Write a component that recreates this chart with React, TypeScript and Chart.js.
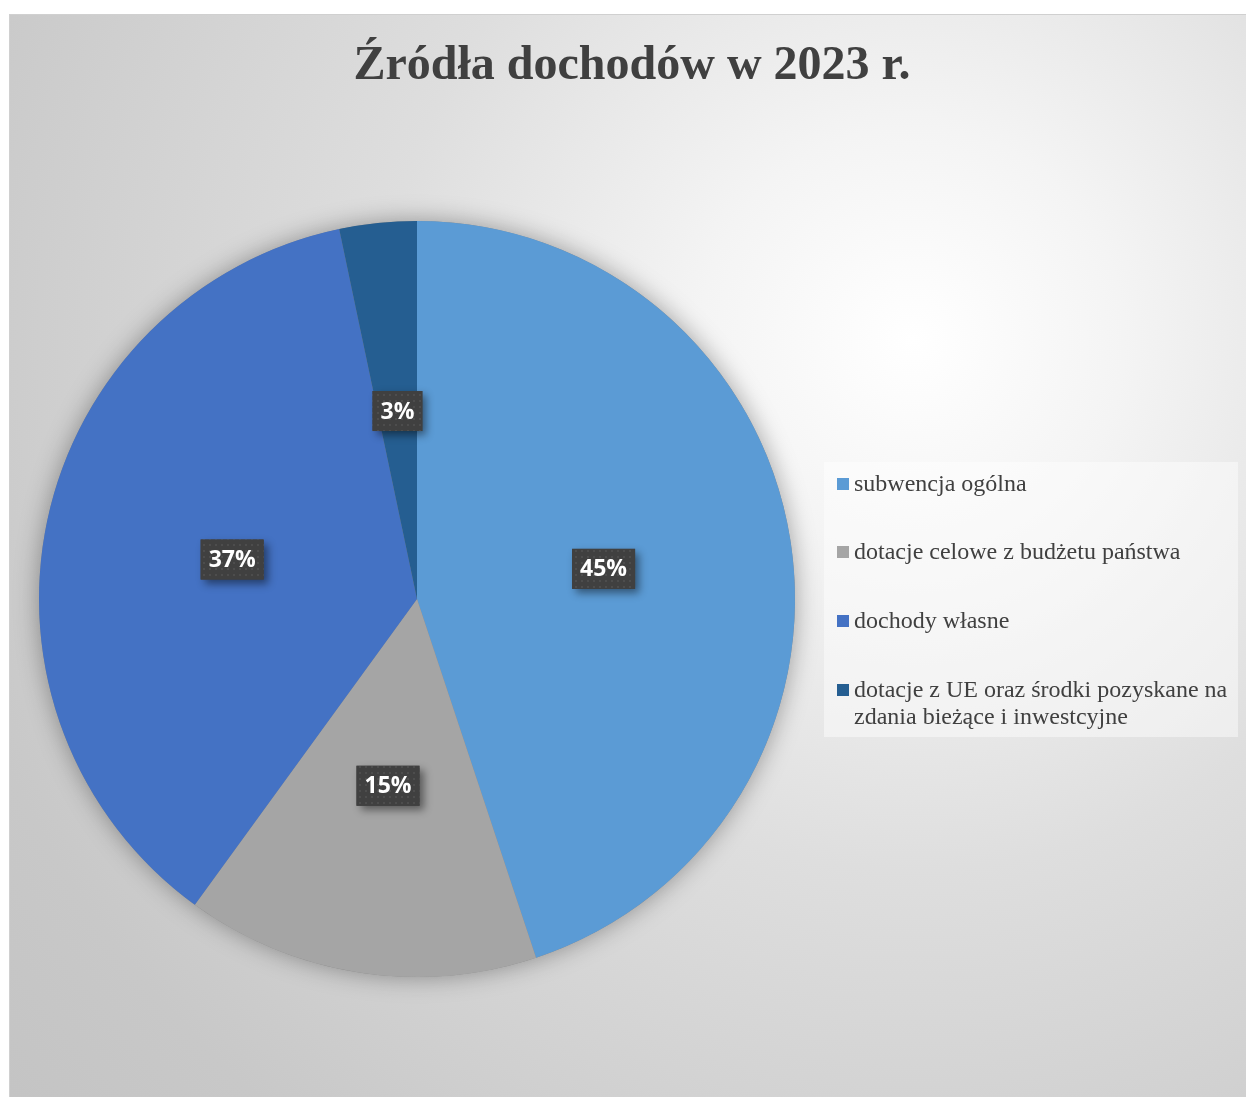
import React, { useEffect, useRef } from "react";
import { Chart, registerables } from "chart.js";

Chart.register(...registerables);

const TITLE = "Źródła dochodów w 2023 r.";
const categories = [
  "subwencja ogólna",
  "dotacje celowe z budżetu państwa",
  "dochody własne",
  "dotacje z UE oraz środki pozyskane na zdania bieżące i inwestcyjne",
];
const legendLines = [
  ["subwencja ogólna"],
  ["dotacje celowe z budżetu państwa"],
  ["dochody własne"],
  ["dotacje z UE oraz środki pozyskane na", "zdania bieżące i inwestcyjne"],
];
const values = [44.9, 15.1, 36.7, 3.3];
const colors = ["#5B9BD5", "#A5A5A5", "#4472C4", "#255E91"];

const W = 1237;
const H = 1083;

function makePattern(ctx: CanvasRenderingContext2D) {
  const c = document.createElement("canvas");
  c.width = 6;
  c.height = 6;
  const p = c.getContext("2d")!;
  p.fillStyle = "#404040";
  p.fillRect(0, 0, 6, 6);
  p.fillStyle = "#4d4d4d";
  p.fillRect(2, 2, 2, 2);
  return ctx.createPattern(c, "repeat");
}

const decorPlugin = {
  id: "decor",
  beforeDatasetsDraw(chart: any) {
    const ctx = chart.ctx as CanvasRenderingContext2D;
    const meta = chart.getDatasetMeta(0);
    const arc = meta.data[0];
    if (!arc) return;
    ctx.save();
    ctx.beginPath();
    ctx.arc(arc.x, arc.y, arc.outerRadius, 0, Math.PI * 2);
    ctx.shadowColor = "rgba(0,0,0,0.35)";
    ctx.shadowBlur = 24;
    ctx.fillStyle = "#888";
    ctx.fill();
    ctx.restore();
  },
  afterDatasetsDraw(chart: any) {
    const ctx = chart.ctx as CanvasRenderingContext2D;
    const meta = chart.getDatasetMeta(0);
    const total = values.reduce((a, b) => a + b, 0);
    const pat = makePattern(ctx);
    ctx.save();
    ctx.font = "bold 23px 'Open Sans', sans-serif";
    meta.data.forEach((el: any, i: number) => {
      const pt = el.getCenterPoint();
      const txt = Math.round((values[i] / total) * 100) + "%";
      const tw = ctx.measureText(txt).width;
      const bw = tw + 16;
      const bh = 40;
      const x = pt.x - bw / 2;
      const y = pt.y - bh / 2;
      ctx.save();
      ctx.shadowColor = "rgba(0,0,0,0.45)";
      ctx.shadowBlur = 8;
      ctx.shadowOffsetX = 4;
      ctx.shadowOffsetY = 4;
      ctx.fillStyle = "#404040";
      ctx.fillRect(x, y, bw, bh);
      ctx.restore();
      ctx.fillStyle = pat || "#404040";
      ctx.fillRect(x, y, bw, bh);
      ctx.fillStyle = "#ffffff";
      ctx.textAlign = "center";
      ctx.textBaseline = "middle";
      ctx.fillText(txt, pt.x, pt.y + 1);
    });
    ctx.restore();

    // title
    ctx.save();
    ctx.fillStyle = "#404040";
    ctx.font = "bold 48px 'Liberation Serif', 'Times New Roman', serif";
    ctx.textAlign = "center";
    ctx.textBaseline = "alphabetic";
    ctx.fillText(TITLE, 623, 65);
    ctx.restore();

    // legend
    ctx.save();
    ctx.fillStyle = "rgba(255,255,255,0.45)";
    ctx.fillRect(815, 448, 414, 275);
    ctx.font = "24px 'Liberation Serif', 'Times New Roman', serif";
    ctx.textBaseline = "middle";
    ctx.textAlign = "left";
    const ys = [470, 538, 607, 676];
    legendLines.forEach((lines, i) => {
      ctx.fillStyle = colors[i];
      ctx.fillRect(828, ys[i] - 6, 12, 12);
      ctx.fillStyle = "#404040";
      lines.forEach((ln, j) => {
        ctx.fillText(ln, 845, ys[i] + j * 27 + 1);
      });
    });
    ctx.restore();
  },
};

export default function App() {
  const ref = useRef<HTMLCanvasElement | null>(null);
  useEffect(() => {
    if (!ref.current) return;
    const chart = new Chart(ref.current, {
      type: "pie",
      data: {
        labels: categories,
        datasets: [
          {
            data: values,
            backgroundColor: colors,
            borderWidth: 0,
          },
        ],
      },
      options: {
        animation: false,
        responsive: false,
        maintainAspectRatio: false,
        layout: { padding: { left: 30, right: 451, top: 207, bottom: 120 } },
        plugins: {
          legend: { display: false },
          title: { display: false },
          tooltip: { enabled: false },
        },
      },
      plugins: [decorPlugin],
    });
    return () => chart.destroy();
  }, []);
  return (
    <div
      style={{
        position: "fixed",
        left: 9,
        top: 14,
        width: W,
        height: H,
        boxSizing: "border-box",
        borderLeft: "1px solid #d0d0d0",
        borderTop: "1px solid #d0d0d0",
        background:
          "radial-gradient(circle at 73% 30%, #ffffff 0%, #f4f4f4 18%, #dedede 45%, #c8c8c8 85%, #c4c4c4 100%)",
        overflow: "hidden",
      }}
    >
      <canvas ref={ref} width={W} height={H} style={{ display: "block", position: "absolute", left: -1, top: -1 }} />
    </div>
  );
}
